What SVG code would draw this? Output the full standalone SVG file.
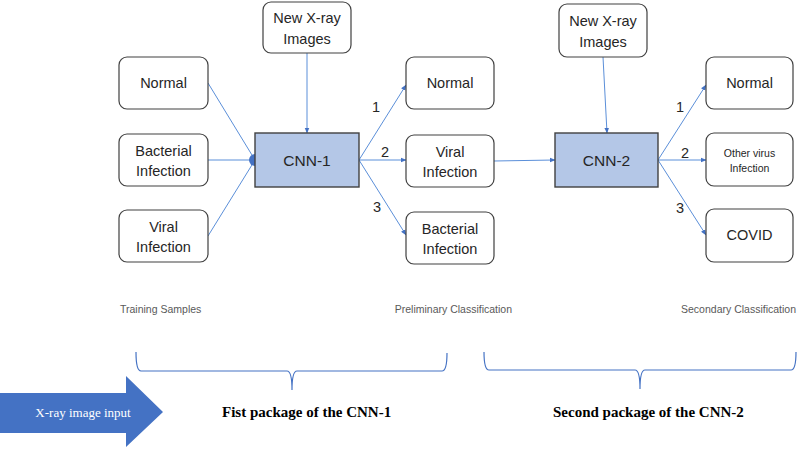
<svg xmlns="http://www.w3.org/2000/svg" width="798" height="450" viewBox="0 0 798 450">
<defs>
<style>
.box{fill:#fff;stroke:#404040;stroke-width:1.2}
.cnn{fill:#b4c7e7;stroke:#404040;stroke-width:1.4}
.t{font-family:"Liberation Sans",Arial,sans-serif;font-size:14.5px;fill:#262626;text-anchor:middle}
.s{font-size:10.5px}
.c{font-family:"Liberation Sans",Arial,sans-serif;font-size:10.5px;fill:#595959}
.n{font-family:"Liberation Sans",Arial,sans-serif;font-size:14.5px;fill:#262626;text-anchor:middle}
.ln{stroke:#5b8fd9;stroke-width:1;fill:none}
.br{stroke:#4472c4;stroke-width:1.2;fill:none}
.b{font-family:"Liberation Serif",serif;font-weight:bold;font-size:15px;fill:#000}
</style>
<marker id="ah" viewBox="0 0 10 10" refX="9" refY="5" markerWidth="6" markerHeight="6" orient="auto">
<path d="M0,1 L10,5 L0,9 z" fill="#4472c4"/>
</marker>
</defs>

<g id="connectors">
<line class="ln" x1="208" y1="83" x2="255" y2="160"/>
<line class="ln" x1="208" y1="160" x2="255" y2="160"/>
<line class="ln" x1="208" y1="236" x2="255" y2="160"/>
<line class="ln" x1="307" y1="53" x2="307" y2="133" marker-end="url(#ah)"/>
<line class="ln" x1="359" y1="160" x2="406" y2="85" marker-end="url(#ah)"/>
<line class="ln" x1="359" y1="160" x2="406" y2="160" marker-end="url(#ah)"/>
<line class="ln" x1="359" y1="160" x2="406" y2="235" marker-end="url(#ah)"/>
<line class="ln" x1="494" y1="161" x2="555" y2="160" marker-end="url(#ah)"/>
<line class="ln" x1="603" y1="57" x2="607" y2="133" marker-end="url(#ah)"/>
<line class="ln" x1="658" y1="160" x2="706" y2="85" marker-end="url(#ah)"/>
<line class="ln" x1="658" y1="160" x2="706" y2="160" marker-end="url(#ah)"/>
<line class="ln" x1="658" y1="160" x2="706" y2="235" marker-end="url(#ah)"/>
<path d="M255,154 A6,6 0 0 0 255,166 z" fill="#4472c4"/>
<text class="n" x="376" y="112">1</text>
<text class="n" x="385" y="157">2</text>
<text class="n" x="377" y="212">3</text>
<text class="n" x="680" y="112">1</text>
<text class="n" x="685" y="158">2</text>
<text class="n" x="680" y="213">3</text>
</g>

<g id="xray1"><rect class="box" x="263" y="2" width="88" height="51" rx="8"/>
<text class="t" x="307" y="23">New X-ray</text><text class="t" x="307" y="44">Images</text></g>
<g id="train-normal"><rect class="box" x="119" y="57" width="89" height="52" rx="8"/>
<text class="t" x="163.5" y="88">Normal</text></g>
<g id="train-bacterial"><rect class="box" x="119" y="134" width="89" height="52" rx="8"/>
<text class="t" x="163.5" y="156">Bacterial</text><text class="t" x="163.5" y="176">Infection</text></g>
<g id="train-viral"><rect class="box" x="119" y="210" width="89" height="52" rx="8"/>
<text class="t" x="163.5" y="232">Viral</text><text class="t" x="163.5" y="252">Infection</text></g>
<g id="cnn1"><rect class="cnn" x="255" y="133" width="104" height="54"/>
<text class="t" x="307" y="166" style="font-size:15.5px">CNN-1</text></g>

<g id="pre-normal"><rect class="box" x="406" y="57" width="88" height="52" rx="8"/>
<text class="t" x="450" y="88">Normal</text></g>
<g id="pre-viral"><rect class="box" x="406" y="135" width="88" height="52" rx="8"/>
<text class="t" x="450" y="157">Viral</text><text class="t" x="450" y="177">Infection</text></g>
<g id="pre-bacterial"><rect class="box" x="406" y="212" width="88" height="52" rx="8"/>
<text class="t" x="450" y="234">Bacterial</text><text class="t" x="450" y="254">Infection</text></g>

<g id="xray2"><rect class="box" x="559" y="4" width="88" height="53" rx="8"/>
<text class="t" x="603" y="26">New X-ray</text><text class="t" x="603" y="47">Images</text></g>
<g id="cnn2"><rect class="cnn" x="555" y="133" width="103" height="54"/>
<text class="t" x="606.5" y="166" style="font-size:15.5px">CNN-2</text></g>

<g id="sec-normal"><rect class="box" x="706" y="57" width="87" height="52" rx="8"/>
<text class="t" x="749.5" y="88">Normal</text></g>
<g id="sec-other"><rect class="box" x="706" y="133" width="87" height="53" rx="8"/>
<text class="t s" x="749.5" y="157">Other virus</text><text class="t s" x="749.5" y="172">Infection</text></g>
<g id="sec-covid"><rect class="box" x="706" y="209" width="87" height="53" rx="8"/>
<text class="t" x="749.5" y="240">COVID</text></g>

<text class="c" x="120" y="313">Training Samples</text>
<text class="c" x="512" y="313" text-anchor="end">Preliminary Classification</text>
<text class="c" x="796" y="313" text-anchor="end">Secondary Classification</text>

<path class="br" d="M136,352 Q136,371 141,371 L287,371 Q292,371 292,390 Q292,371 297,371 L442,371 Q447,371 447,353"/>
<path class="br" d="M484,352 Q484,370 489,370 L635,370 Q640,370 640,389 Q640,370 645,370 L791,370 Q796,370 796,352"/>

<path d="M0,393 L126,393 L126,376 L163,412 L126,447 L126,433 L0,433 z" fill="#4472c4"/>
<text x="83" y="417" font-family="Liberation Serif,serif" font-size="13" fill="#fff" text-anchor="middle">X-ray image input</text>
<text class="b" x="222" y="417">Fist package of the CNN-1</text>
<text class="b" x="553" y="417">Second package of the CNN-2</text>
</svg>
